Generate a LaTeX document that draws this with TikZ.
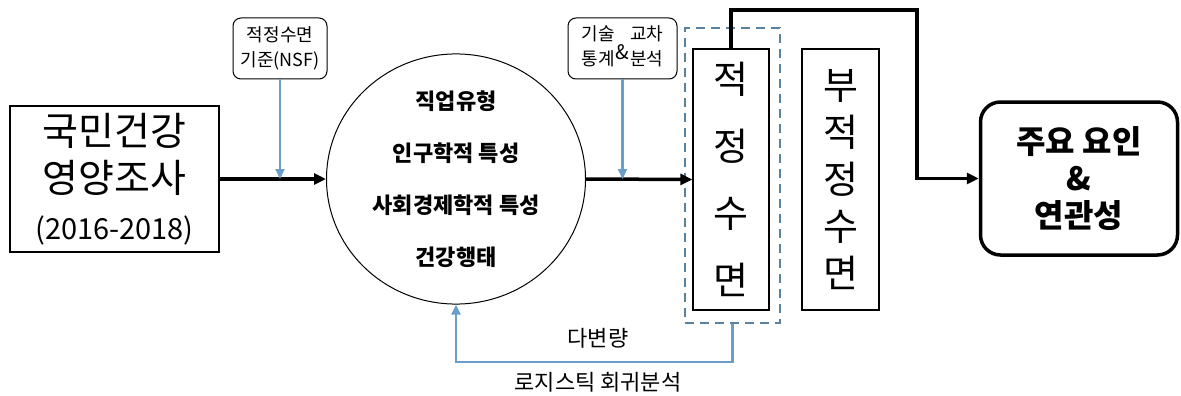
\documentclass[tikz,border=0pt]{standalone}
\usepackage{fontspec}
\setmainfont{Noto Sans CJK KR}
\usetikzlibrary{arrows.meta,shapes.geometric,calc}
\definecolor{lblue}{RGB}{105,158,203}
\definecolor{dblue}{RGB}{88,130,162}
\tikzset{
  box/.style={draw=black,line width=1.3pt,inner sep=0pt,align=center},
  smallbox/.style={box,rounded corners=8pt,line width=1pt},
  blk/.style={line width=3.5pt,-{Triangle[length=12pt,width=11pt]}},
  blu/.style={draw=lblue,line width=2.2pt,-{Triangle[length=10pt,width=9pt]},color=lblue},
}
\begin{document}
\begin{tikzpicture}[x=1pt,y=-1pt]
\useasboundingbox (0,0) rectangle (1181,396);
% source
\node[box,minimum width=209pt,minimum height=146pt,font=\fontsize{39}{47}\selectfont] (src) at (114.5,179)
  {국민건강\\영양조사\\\fontsize{29}{47}\selectfont(2016-2018)};
% small boxes
\node[smallbox,minimum width=94pt,minimum height=61pt,font=\fontsize{18}{25}\selectfont] (nsf) at (280,48.5)
  {적정수면\\기준(NSF)};
\node[smallbox,minimum width=109pt,minimum height=61pt,font=\fontsize{18}{25}\selectfont] (stat) at (622.5,48.5)
  {\begin{tabular}{@{}c@{}}기술\\통계\end{tabular}\hspace{1pt}\raisebox{-7pt}{\fontsize{20}{25}\selectfont\&}\hspace{1pt}\begin{tabular}{@{}c@{}}교차\\분석\end{tabular}};
% circle
\node[draw=black,line width=1pt,ellipse,minimum width=259pt,minimum height=238pt,inner sep=0pt,align=center,
  font=\fontsize{22}{52}\selectfont\bfseries] (circ) at (456,179)
  {직업유형\\인구학적 특성\\사회경제학적 특성\\건강행태};
% dashed group
\node[draw=dblue,dashed,dash pattern=on 9pt off 6pt,line width=2.2pt,minimum width=95pt,minimum height=295pt,inner sep=0pt] (grp) at (732.5,175.5) {};
% sleep boxes
\node[box,minimum width=76pt,minimum height=261pt,font=\fontsize{38}{67}\selectfont] (s1) at (731,179.5)
  {적\\정\\수\\면};
\node[box,minimum width=77pt,minimum height=261pt,font=\fontsize{38}{47}\selectfont] (s2) at (840.5,179.5)
  {부\\적\\정\\수\\면};
% output
\node[box,line width=3.5pt,rounded corners=20pt,minimum width=197pt,minimum height=153pt,
  font=\fontsize{32}{37}\selectfont\bfseries] (out) at (1079,178.5)
  {주요 요인\\\&\\연관성};
% connectors
\draw[blk] (src.east) -- (circ.west);
\draw[blu] (nsf.south) -- (nsf.south |- circ.west);
\draw[blk] (circ.east) -- (s1.west);
\draw[blu] (stat.south) -- (stat.south |- circ.east);
\coordinate (topc) at (917,10);
\draw[blk] (s1.north) |- (topc) |- (out.west);
\coordinate (fb) at (733,362);
\draw[blu] (grp.south) -- (grp.south |- fb) -| (circ.south);
% labels
\node[font=\fontsize{22}{24}\selectfont] (l1) at (598,338) {다변량};
\node[font=\fontsize{22}{24}\selectfont] (l2) at (598,382) {로지스틱 회귀분석};
\end{tikzpicture}
\end{document}
